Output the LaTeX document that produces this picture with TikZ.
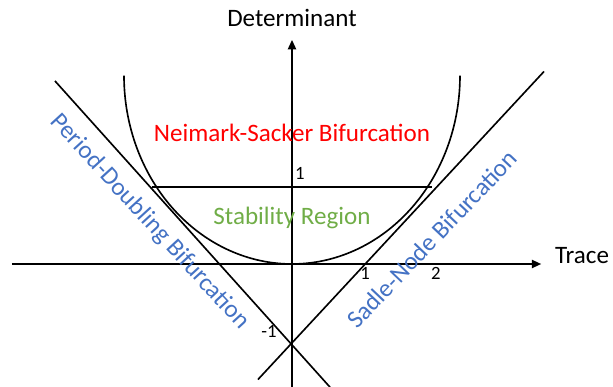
\documentclass[tikz,border=0pt]{standalone}
\usepackage{fontspec}
\setmainfont{Carlito}
\usetikzlibrary{arrows.meta}
\definecolor{nsred}{RGB}{255,0,0}
\definecolor{stabgreen}{RGB}{112,173,71}
\definecolor{bifblue}{RGB}{68,114,196}
\tikzset{
  axis/.style={line width=1.4pt,-{Triangle[length=8pt,width=7pt]}},
  bound/.style={line width=1.4pt},
  label big/.style={font=\fontsize{21.4}{25}\selectfont},
  label tick/.style={font=\fontsize{16}{19}\selectfont},
}
\begin{document}
\begin{tikzpicture}[x=2.1cm,y=2.31cm]
        \useasboundingbox (-4.1714,-1.5974) rectangle (4.5857,3.4286);
        %% Axes
        \draw[axis] (-4.0,0) -- (3.56,0);
        \draw[axis] (0,-1.6) -- (0,2.91);
        \node[label big] (trace) at (4.143,0.104) {Trace};
        \node[label big] (determinant) at (0,3.195) {Determinant};
        %% Ticks
        \node[label tick] (t1) at (1.043,-0.117) {1};
        \node[label tick] (t2) at (2.057,-0.117) {2};
        \node[label tick] (d1) at (0.114,1.18) {1};
        \node[label tick] (dm1) at (-0.33,-0.88) {-1};
        %% Bifurcation lines
        \draw[bound] (-3.386,2.377) -- (0.543,-1.6);
        \draw[bound] (-0.486,-1.5) -- (3.6,2.5);
        \draw[bound] (-2,1) -- (2,1);
        %% Neimark-Sacker boundary
        \draw[bound] plot[domain=180:360,samples=90,smooth] ({2.4*cos(\x)},{2.445+2.445*sin(\x)});
        %% Regions
        \node[label big,text=nsred] (ns) at (0,1.70) {Neimark-Sacker Bifurcation};
        \node[label big,text=stabgreen] (stab) at (0,0.60) {Stability Region};
        \node[label big,text=bifblue,rotate=-47.5] (pd) at (-2.03,0.545) {Period-Doubling Bifurcation};
        \node[label big,text=bifblue,rotate=46.5] (sn) at (2.0,0.325) {Sadle-Node Bifurcation};
    \end{tikzpicture}
\end{document}
